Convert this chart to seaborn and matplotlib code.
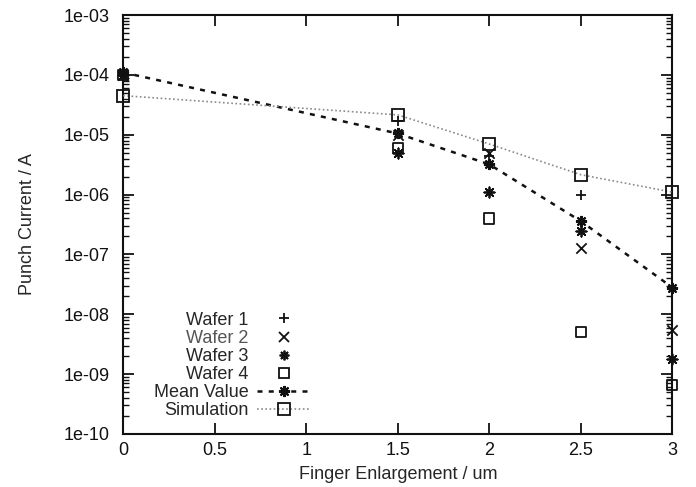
"""Punch current vs. finger enlargement (log scale), gnuplot-like look."""

import matplotlib
matplotlib.use("Agg")
import matplotlib.pyplot as plt
import matplotlib.ticker as mticker
import numpy as np
import pandas as pd
import seaborn as sns

# ---------------------------------------------------------------------------
# Data
# ---------------------------------------------------------------------------
enlargement = [0.0, 1.5, 2.0, 2.5, 3.0]
wafer1 = [1.0e-4, 1.7e-5, 4.5e-6, 1.0e-6, 2.8e-8]
wafer2 = [1.0e-4, 1.0e-5, 5.0e-6, 1.3e-7, 5.5e-9]
wafer3 = [1.0e-4, 5.0e-6, 1.1e-6, 2.5e-7, 1.8e-9]
wafer4 = [1.0e-4, 6.0e-6, 4.0e-7, 5.0e-9, 6.5e-10]
mean_value = [1.1e-4, 1.05e-5, 3.2e-6, 3.6e-7, 2.8e-8]
simulation = [4.5e-5, 2.15e-5, 7.0e-6, 2.15e-6, 1.1e-6]

x_ticks = [0, 0.5, 1, 1.5, 2, 2.5, 3]
y_ticks = [1e-10, 1e-9, 1e-8, 1e-7, 1e-6, 1e-5, 1e-4, 1e-3]

NEGRO = "#111111"
GRIS = "#8a8a8a"
ASTER = (8, 2, 0)  # gnuplot "pt 3": + and x overlaid
FS = 13

sns.set_style("ticks")
plt.rcParams["font.family"] = ["Liberation Sans", "DejaVu Sans"]
plt.rcParams["font.size"] = FS

fig = plt.figure(figsize=(6.96, 4.87), dpi=100)
ax = fig.add_axes([0.177, 0.109, 0.789, 0.860])

wafers = [
    ("Wafer 1", wafer1, "+"),
    ("Wafer 2", wafer2, "x"),
    ("Wafer 3", wafer3, ASTER),
    ("Wafer 4", wafer4, "s"),
]
handles = []
for nombre, valores, marca in wafers:
    df = pd.DataFrame({"x": enlargement, "y": valores})
    if marca == "s":
        sns.scatterplot(data=df, x="x", y="y", ax=ax, marker="s", s=55,
                        facecolor="none", edgecolor=NEGRO, linewidth=1.3,
                        zorder=4, clip_on=False)
        h = plt.Line2D([], [], ls="none", marker="s", ms=7, mfc="none",
                       mec=NEGRO, mew=1.3)
    else:
        sns.scatterplot(data=df, x="x", y="y", ax=ax, marker=marca, s=55,
                        color=NEGRO, linewidth=1.3, zorder=4, clip_on=False)
        h = plt.Line2D([], [], ls="none", marker=marca, ms=7, color=NEGRO,
                       mew=1.3)
    handles.append((h, nombre))

df_mean = pd.DataFrame({"x": enlargement, "y": mean_value})
sns.lineplot(data=df_mean, x="x", y="y", ax=ax, color=NEGRO, linewidth=1.8,
             linestyle=(0, (2, 2.5)), marker=ASTER, markersize=8,
             markeredgecolor=NEGRO, markeredgewidth=1.5, zorder=3,
             clip_on=False)
handles.append((plt.Line2D([], [], color=NEGRO, lw=1.8, ls=(0, (2, 2.5)),
                           marker=ASTER, ms=8, mew=1.5), "Mean Value"))

df_sim = pd.DataFrame({"x": enlargement, "y": simulation})
sns.lineplot(data=df_sim, x="x", y="y", ax=ax, color=GRIS, linewidth=1.2,
             linestyle=(0, (1, 1.5)), marker="s", markersize=8,
             markerfacecolor="none", markeredgecolor=NEGRO,
             markeredgewidth=1.3, zorder=3, clip_on=False)
handles.append((plt.Line2D([], [], color=GRIS, lw=1.2, ls=(0, (1, 1.5)),
                           marker="s", ms=8, mfc="none", mec=NEGRO, mew=1.3),
                "Simulation"))

# ---------------------------------------------------------------------------
# Axes
# ---------------------------------------------------------------------------
ax.set_yscale("log")
ax.set_xlim(0, 3)
ax.set_ylim(1e-10, 1e-3)
ax.set_xticks(x_ticks)
ax.set_xticklabels([f"{t:g}" for t in x_ticks])
ax.set_yticks(y_ticks)
ax.set_yticklabels([f"{t:.0e}" for t in y_ticks])
ax.yaxis.set_minor_locator(mticker.LogLocator(base=10, subs=np.arange(2, 10)))
ax.yaxis.set_minor_formatter(mticker.NullFormatter())
ax.tick_params(which="both", direction="in", top=True, right=True,
               colors=NEGRO, labelsize=FS)
ax.tick_params(axis="y", pad=9.5)
ax.tick_params(axis="x", pad=6)
ax.tick_params(which="major", length=8, width=1.3)
ax.tick_params(which="minor", length=4, width=1.0)
for lado in ax.spines.values():
    lado.set_linewidth(1.5)
    lado.set_color(NEGRO)

ax.set_xlabel("Finger Enlargement / um", fontsize=FS, labelpad=5)
ax.set_ylabel("Punch Current / A", fontsize=FS, labelpad=20)

leg = ax.legend([h for h, _ in handles], [n for _, n in handles],
                loc="lower left", bbox_to_anchor=(0.033, 0.005), frameon=False,
                markerfirst=False, fontsize=FS, handlelength=3.0,
                handletextpad=0.45, labelspacing=0.06, borderaxespad=0.3)
for texto in leg.get_texts():
    texto.set_ha("right")
leg.get_texts()[1].set_color("#555555")
leg._legend_box.align = "right"

fig.savefig("out.png", dpi=100)
